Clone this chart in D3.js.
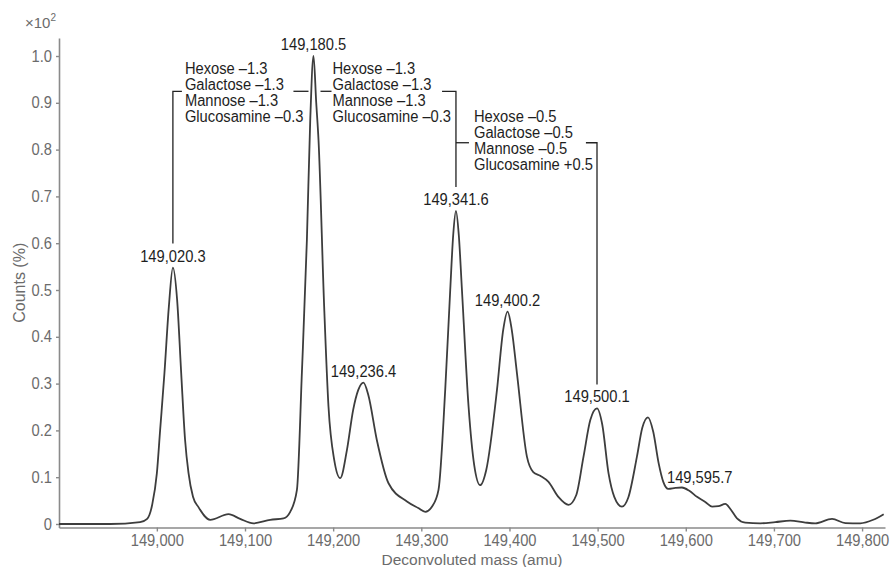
<!DOCTYPE html>
<html>
<head>
<meta charset="utf-8">
<script src="https://cdn.jsdelivr.net/npm/d3@7"></script>
<style>
  html, body { margin: 0; padding: 0; background: #fff; }
  svg { display: block; font-family: "Liberation Sans", Arial, sans-serif; }
</style>
</head>
<body>
<svg id="chart" width="891" height="567"></svg>
<script>
// ---------------- data ----------------
const massValues = [
  148889, 148947, 148981, 148989, 148994.7, 149000, 149003.7, 149008.6, 149013.6, 149018.2,
  149023, 149027.6, 149032, 149035.9, 149041, 149047.2, 149060.5, 149081.3, 149094.5, 149109.6,
  149128.6, 149143.7, 149151.3, 149158.9, 149164.5, 149170.2, 149174, 149177.7, 149180.8, 149183.4,
  149189.8, 149194.7, 149201.2, 149208, 149215.6, 149222.7, 149228.4, 149234.4, 149239.8, 149249.6,
  149262.8, 149283.7, 149296.5, 149304.5, 149312.4, 149319.5, 149327.1, 149332.8, 149336.2, 149339.3,
  149342.5, 149346.1, 149353.6, 149360, 149366.8, 149373.6, 149385.8, 149392.9, 149397.8, 149402.6,
  149408.5, 149419.8, 149427, 149434.9, 149444.3, 149455.4, 149467, 149475.8, 149484, 149491.7,
  149499.3, 149505.3, 149512.4, 149518.9, 149527.6, 149534.7, 149544.6, 149550.6, 149557.1, 149563.1,
  149569.2, 149574.5, 149580.2, 149588.2, 149595.7, 149604, 149612.7, 149622.1, 149629.8, 149637,
  149644.9, 149650.6, 149658.1, 149667.5, 149684.5, 149701.5, 149718.6, 149735.6, 149746.9, 149765.9,
  149781, 149798, 149812.7, 149824.5
];
const countValues = [
  0, 0, 0.004, 0.011, 0.041, 0.108, 0.2, 0.322, 0.464, 0.548,
  0.479, 0.323, 0.18, 0.109, 0.058, 0.036, 0.009, 0.021, 0.011, 0.0015,
  0.009, 0.012, 0.026, 0.073, 0.322, 0.607, 0.863, 1.0, 0.9, 0.82,
  0.464, 0.251, 0.137, 0.098, 0.158, 0.244, 0.286, 0.302, 0.276, 0.179,
  0.087, 0.048, 0.034, 0.026, 0.038, 0.073, 0.286, 0.5, 0.618, 0.669,
  0.618, 0.5, 0.251, 0.126, 0.083, 0.115, 0.286, 0.415, 0.454, 0.415,
  0.322, 0.144, 0.111, 0.103, 0.09, 0.058, 0.041, 0.062, 0.144, 0.222,
  0.247, 0.212, 0.108, 0.058, 0.037, 0.056, 0.144, 0.205, 0.228, 0.197,
  0.13, 0.09, 0.075, 0.077, 0.078, 0.071, 0.058, 0.047, 0.037, 0.038,
  0.043, 0.032, 0.012, 0.003, 0.0015, 0.004, 0.007, 0.003, 0.0015, 0.011,
  0.002, 0.0015, 0.009, 0.021
];
const xTicks = [149000, 149100, 149200, 149300, 149400, 149500, 149600, 149700, 149800];
const yTicks = [0, 0.1, 0.2, 0.3, 0.4, 0.5, 0.6, 0.7, 0.8, 0.9, 1.0];

const peakText  = ["149,020.3", "149,180.5", "149,236.4", "149,341.6", "149,400.2", "149,500.1", "149,595.7"];
const peakMass  = [149018.2, 149177.7, 149234.4, 149339.3, 149397.8, 149499.3, 149595.7];
const peakCount = [0.548, 1.0, 0.302, 0.669, 0.454, 0.247, 0.078];

const modBlock1 = ["Hexose \u20131.3", "Galactose \u20131.3", "Mannose \u20131.3", "Glucosamine \u20130.3"];
const modBlock2 = ["Hexose \u20131.3", "Galactose \u20131.3", "Mannose \u20131.3", "Glucosamine \u20130.3"];
const modBlock3 = ["Hexose \u20130.5", "Galactose \u20130.5", "Mannose \u20130.5", "Glucosamine +0.5"];

const xTitle = "Deconvoluted mass (amu)";
const yTitle = "Counts (%)";

// ---------------- layout ----------------
const svg = d3.select("#chart");
const SX = 0.92;             // condensed look
const axisGrey = "#8a8a8a";
const textGrey = "#6b6b6b";
const ink = "#1e1e1e";

const x = d3.scaleLinear().domain([148889, 149826]).range([59, 885]);
const y = d3.scaleLinear().domain([-0.0075, 1.0385]).range([527.5, 38]);

// x axis
const gx = svg.append("g").attr("transform", `translate(0,${y.range()[0]})`)
  .call(d3.axisBottom(x).tickValues(xTicks).tickSize(4).tickSizeOuter(0).tickPadding(3.5)
    .tickFormat(d3.format(",")));
gx.select(".domain").attr("stroke", axisGrey).attr("stroke-width", 1.6);
gx.selectAll(".tick line").attr("stroke", axisGrey).attr("stroke-width", 1.4);
gx.selectAll(".tick text").attr("fill", textGrey).attr("font-size", 16)
  .attr("font-family", "Liberation Sans, Arial, sans-serif")
  .attr("transform", `scale(${SX},1)`);

// y axis
const gy = svg.append("g").attr("transform", `translate(${x.range()[0]},0)`)
  .call(d3.axisLeft(y).tickValues(yTicks).tickSize(3).tickSizeOuter(0).tickPadding(4)
    .tickFormat(d => d === 0 ? "0" : d.toFixed(1)));
gy.select(".domain").attr("stroke", axisGrey).attr("stroke-width", 1.6);
gy.selectAll(".tick line").attr("stroke", axisGrey).attr("stroke-width", 1.4);
gy.selectAll(".tick text").attr("fill", textGrey).attr("font-size", 16)
  .attr("font-family", "Liberation Sans, Arial, sans-serif")
  .attr("x", -7 / SX)
  .attr("transform", `scale(${SX},1)`);

// x10^2 multiplier
const mult = svg.append("text").attr("x", 25).attr("y", 28).attr("fill", textGrey)
  .attr("font-size", 15);
mult.append("tspan").text("\u00d710");
mult.append("tspan").attr("font-size", 10).attr("dy", -7).text("2");

// axis titles
svg.append("text")
  .attr("x", (x.range()[0] + x.range()[1]) / 2).attr("y", 564.5)
  .attr("text-anchor", "middle").attr("fill", textGrey).attr("font-size", 15.5)
  .text(xTitle);
svg.append("text")
  .attr("transform", `translate(25,${(y.range()[0] + y.range()[1]) / 2}) rotate(-90)`)
  .attr("text-anchor", "middle").attr("fill", textGrey).attr("font-size", 16)
  .text(yTitle);

// spectrum curve
const pts = massValues.map((m, i) => [m, countValues[i]]);
svg.append("path")
  .datum(pts)
  .attr("fill", "none")
  .attr("stroke", "#3d3d3d")
  .attr("stroke-width", 1.8)
  .attr("stroke-linejoin", "round")
  .attr("d", d3.line().x(d => x(d[0])).y(d => y(d[1])).curve(d3.curveMonotoneX));

// peak labels
const labelBase = i => y(peakCount[i]) - 6;
peakText.forEach((t, i) => {
  const last = i === peakText.length - 1;
  const px = last ? x(peakMass[i]) - 15 : x(peakMass[i]);
  const py = last ? y(peakCount[i]) - 4 : labelBase(i);
  svg.append("text")
    .attr("transform", `translate(${px},${py}) scale(${SX},1)`)
    .attr("text-anchor", last ? "start" : "middle")
    .attr("fill", ink).attr("font-size", 16)
    .text(t);
});

// modification text blocks
function block(lines, left, firstBase) {
  let w = 0;
  lines.forEach((t, k) => {
    const el = svg.append("text")
      .attr("transform", `translate(${left},${firstBase + k * 16}) scale(${SX},1)`)
      .attr("fill", ink).attr("font-size", 16)
      .text(t);
    w = Math.max(w, el.node().getComputedTextLength() * SX);
  });
  return w;
}

const bx1 = x(peakMass[0]), bx2 = x(peakMass[1]), bx4 = x(peakMass[3]), bx6 = x(peakMass[5]);
const ly1 = y(0.9246), ly2 = y(0.8147);
const bottom = i => labelBase(i) - 12 - 6;

const b1 = bx1 + 12, b2 = bx2 + 19, b3 = bx4 + 18;
const w1 = block(modBlock1, b1, ly1 - 17);
const w2 = block(modBlock2, b2, ly1 - 17);
const w3 = block(modBlock3, b3, ly2 - 20.5);

const segs = [
  [[bx1, bottom(0)], [bx1, ly1], [b1 - 3, ly1]],
  [[b1 + w1 - 10, ly1], [bx2 - 5, ly1]],
  [[bx2 + 7, ly1], [b2 - 1, ly1]],
  [[b2 + w2 - 9, ly1], [bx4, ly1], [bx4, bottom(3)]],
  [[bx4, ly2], [b3 - 5, ly2]],
  [[b3 + w3 - 7, ly2], [bx6, ly2], [bx6, bottom(5)]]
];
svg.append("g").selectAll("path").data(segs).join("path")
  .attr("fill", "none").attr("stroke", "#222").attr("stroke-width", 1.3)
  .attr("d", d3.line());
</script>
</body>
</html>
